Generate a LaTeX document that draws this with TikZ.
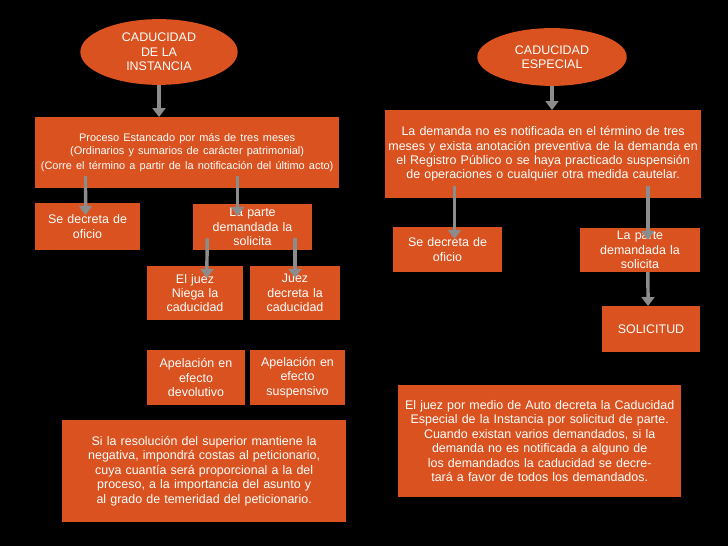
\documentclass[tikz,border=0pt]{standalone}
\usepackage{fontspec}
\setmainfont{Liberation Sans}
\usetikzlibrary{arrows.meta,shapes.geometric}
\definecolor{org}{HTML}{D9521F}
\definecolor{arr}{HTML}{8C8C8C}
\tikzset{
  bx/.style={fill=org,text=white,align=center,inner sep=2pt,anchor=north west,font=\fontsize{12.5}{14.5}\selectfont},
  el/.style={ellipse,fill=org,text=white,align=center,inner sep=0pt,font=\fontsize{12.5}{14.5}\selectfont},
  ar/.style={draw=arr,line width=3.5pt,-{Triangle[length=9pt,width=13pt]},shorten <=-12pt,shorten >=-12pt}
}
\newcommand{\bxn}[7]{\node[bx,minimum width=#4,minimum height=#5,text width=#6] (#1) at (#2,#3) {#7};}
\begin{document}
\begin{tikzpicture}[x=1bp,y=-1bp]
\fill[black] (0,0) rectangle (728,546);
\useasboundingbox (0,0) rectangle (728,546);
\node[el,minimum width=158,minimum height=66] (e1) at (159,52) {CADUCIDAD\\DE LA\\INSTANCIA};
\node[el,minimum width=150,minimum height=58] (e2) at (552,57) {CADUCIDAD\\ESPECIAL};
\bxn{a}{35}{117}{305}{71}{300}{\fontsize{11}{13.5}\selectfont Proceso Estancado por más de tres meses\\(Ordinarios y sumarios de carácter patrimonial)\\(Corre el término a partir de la notificación del último acto)}
\bxn{b}{385}{110}{317}{88}{312}{La demanda no es notificada en el término de tres meses y exista anotación preventiva de la demanda en el Registro Público o se haya practicado suspensión de operaciones o cualquier otra medida cautelar.}
\bxn{c}{35}{203}{105}{47}{100}{Se decreta de\\oficio}
\bxn{d}{193}{204}{119}{46}{114}{La parte\\demandada la\\solicita}
\bxn{f}{147}{266}{96}{54}{92}{El juez\\Niega la\\caducidad}
\bxn{g}{250}{266}{90}{54}{86}{Juez\\decreta la\\caducidad}
\bxn{h}{147}{350}{98}{55}{94}{Apelación en\\efecto\\devolutivo}
\bxn{i}{250}{350}{95}{55}{91}{Apelación en\\efecto\\suspensivo}
\bxn{j}{62}{420}{285}{102}{280}{Si la resolución del superior mantiene la negativa, impondrá costas al peticionario, cuya cuantía será proporcional a la del proceso, a la importancia del asunto y al grado de temeridad del peticionario.}
\bxn{k}{393}{227}{109}{45}{105}{Se decreta de\\oficio}
\bxn{l}{580}{228}{120}{44}{116}{La parte\\demandada la\\solicita}
\bxn{m}{602}{306}{98}{46}{94}{SOLICITUD}
\bxn{n}{398}{385}{284}{112}{280}{El juez por medio de Auto decreta la Caducidad Especial de la Instancia por solicitud de parte.\\Cuando existan varios demandados, si la demanda no es notificada a alguno de los demandados la caducidad se decretará a favor de todos los demandados.}
\draw[ar,shorten <=0pt,shorten >=0pt] (e1.south) -- (e1.south |- a.north);
\draw[ar,shorten <=0pt,shorten >=0pt] (e2.south) -- (e2.south |- b.north);
\draw[ar] (a.south -| c.center) ++(-2,0) -- ([xshift=-2]c.north -| c.center);
\draw[ar] ([xshift=-15]a.south -| d.center) -- ([xshift=-15]d.north -| d.center);
\draw[ar] (d.south -| f.center) ++(12,0) -- ([xshift=12]f.north);
\draw[ar] (d.south -| g.center) -- (g.north);
\draw[ar] ([xshift=7]b.south -| k.center) -- ([xshift=7]k.north);
\draw[ar] ([xshift=8]b.south -| l.center) -- ([xshift=8]l.north);
\draw[ar,shorten <=0pt,shorten >=0pt] ([xshift=8]l.south) -- ([xshift=-3]m.north);
\end{tikzpicture}
\end{document}
